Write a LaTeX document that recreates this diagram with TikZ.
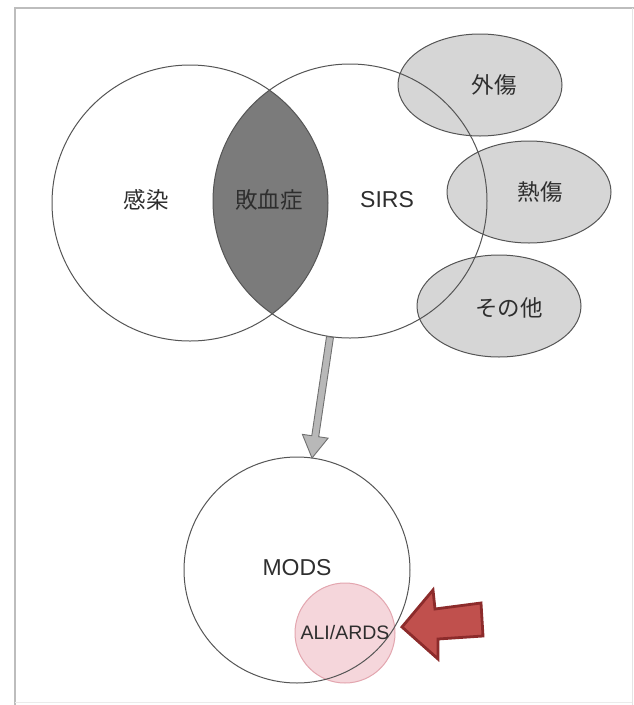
\documentclass[tikz,border=0pt]{standalone}
\usepackage{fontspec}
\setmainfont{Liberation Sans}
\newfontfamily\jp{Noto Sans CJK JP}
\usetikzlibrary{shapes.geometric,calc}
\definecolor{lineg}{HTML}{555555}
\definecolor{lensg}{HTML}{7B7B7B}
\definecolor{ellg}{HTML}{D6D6D6}
\definecolor{arrg}{HTML}{B8B8B8}
\definecolor{arrgd}{HTML}{707070}
\definecolor{txtg}{HTML}{2E2E2E}
\definecolor{pinkf}{HTML}{F5D6DB}
\definecolor{pinkd}{HTML}{E3A6AF}
\definecolor{redf}{HTML}{C0504D}
\definecolor{redd}{HTML}{8C2B2B}
\definecolor{frameg}{HTML}{BDBDBD}
\tikzset{
  bigcirc/.style={circle, inner sep=0pt, outer sep=0pt, minimum size=#1},
  ell/.style={ellipse, inner sep=0pt, outer sep=0pt, minimum width=164pt, minimum height=102pt},
  jplabel/.style={text=txtg, font=\jp\fontsize{22.5}{22.5}\selectfont, inner sep=0pt},
  enlabel/.style={text=txtg, font=\fontsize{23}{23}\selectfont, inner sep=0pt},
  outline/.style={draw=lineg, line width=1pt},
}
\begin{document}
\begin{tikzpicture}[x=1pt,y=-1pt]
\useasboundingbox (0,0) rectangle (634,705);
\fill[white] (0,0) rectangle (634,705);
% frame
\draw[frameg, line width=1.6pt] (15,705) -- (15,8) -- (634,8);
\draw[frameg!40, line width=0.8pt] (632,8) -- (632,705);
\draw[frameg!30, line width=0.8pt] (15,702) -- (632,702);

% nodes (shapes)
\node[bigcirc=276pt] (inf) at (190,203) {};
\node[bigcirc=274pt] (sirs) at (350,201) {};
\node[ell] (trauma) at (480,85) {};
\node[ell] (burn) at (529,192) {};
\node[ell] (other) at (499,306) {};
\node[bigcirc=226pt] (mods) at (297,570) {};
\node[bigcirc=100pt] (ards) at (345,633) {};

% fills
\fill[ellg] (trauma.center) ellipse[x radius=82, y radius=51];
\fill[ellg] (burn.center) ellipse[x radius=82, y radius=51];
\fill[ellg] (other.center) ellipse[x radius=82, y radius=51];
\begin{scope}
  \clip (inf.center) circle[radius=138];
  \fill[lensg] (sirs.center) circle[radius=137];
\end{scope}
\fill[pinkf] (ards.center) circle[radius=50];

% outlines
\draw[outline] (inf.center) circle[radius=138];
\draw[outline] (sirs.center) circle[radius=137];
\draw[outline] (trauma.center) ellipse[x radius=82, y radius=51];
\draw[outline] (burn.center) ellipse[x radius=82, y radius=51];
\draw[outline] (other.center) ellipse[x radius=82, y radius=51];
\draw[pinkd, line width=1pt] (ards.center) circle[radius=50];
\draw[outline] (mods.center) circle[radius=113];

% labels
\node[jplabel] (tinf) at (146,200) {感染};
\node[jplabel] (tsep) at (269,200) {敗血症};
\node[enlabel] (tsirs) at (387,200) {SIRS};
\node[jplabel] (ttra) at (494,85) {外傷};
\node[jplabel] (tbur) at (540,192) {熱傷};
\node[jplabel] (toth) at (509,308) {その他};
\node[enlabel] (tmods) at (297,568) {MODS};
\node[enlabel, font=\fontsize{19.5}{19.5}\selectfont] (tards) at (345,633) {ALI/ARDS};

% grey block arrow SIRS -> MODS
\coordinate (aS) at (330,337);
\coordinate (aE) at (312,458);
\coordinate (aH) at ($(aE)!22pt!(aS)$);
\draw[arrgd, fill=arrg, line width=0.9pt, line join=miter]
  ($(aS)!3.5pt!90:(aE)$) -- ($(aH)!3.5pt!90:(aE)$) -- ($(aH)!13pt!90:(aE)$)
  -- (aE) -- ($(aH)!13pt!-90:(aE)$) -- ($(aH)!3.5pt!-90:(aE)$)
  -- ($(aS)!3.5pt!-90:(aE)$) -- cycle;

% red block arrow pointing at ALI/ARDS
\coordinate (rTip) at (402,627);
\draw[redd, fill=redf, line width=2.8pt, line join=miter]
  (rTip) -- (433,590) -- (435,609) -- (481,603) -- (483,636) -- (438,639) -- (438,659) -- cycle;
\end{tikzpicture}
\end{document}
